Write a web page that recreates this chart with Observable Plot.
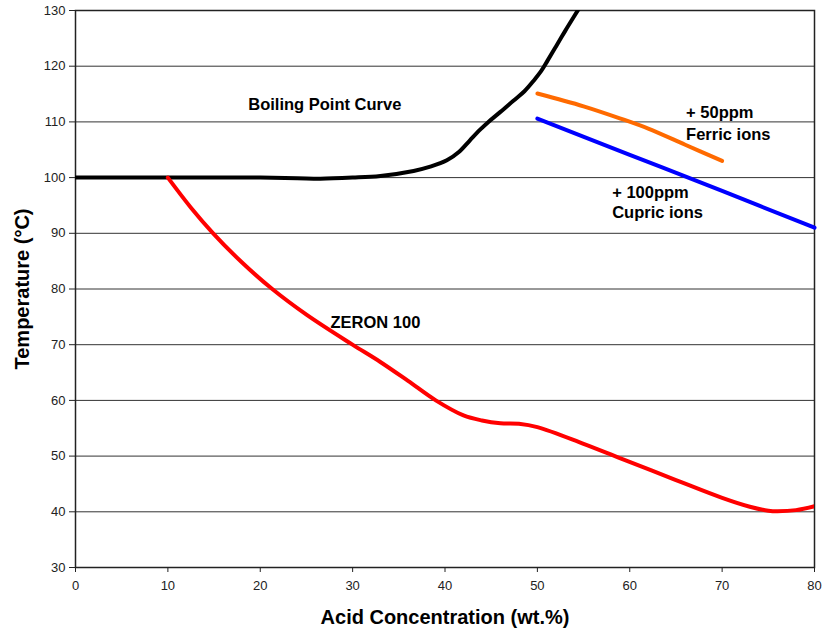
<!DOCTYPE html>
<html><head><meta charset="utf-8">
<script src="https://cdn.jsdelivr.net/npm/d3@7"></script>
<script src="https://cdn.jsdelivr.net/npm/@observablehq/plot@0.6"></script>
<style>
body{margin:0;background:#fff;}
#chart svg{font-family:"Liberation Sans",Arial,sans-serif;}
</style>
</head><body><div id="chart"></div>
<script>
const boilX = [0, 10, 20, 24, 26.5, 30, 33, 36.6, 38.5, 40.2, 41.5, 42.7, 43.8, 44.7, 46, 47.4, 48.6, 49.6, 50.4, 51.1, 52, 53, 54, 55];
const boilY = [100, 100, 100, 99.9, 99.8, 100, 100.3, 101.2, 102, 103.1, 104.6, 106.7, 108.6, 110, 111.8, 113.8, 115.5, 117.4, 119.1, 121, 123.5, 126.3, 129, 131.7];
const zeronX = [10, 12.5, 14.9, 18, 21.3, 25, 29.9, 33, 36, 39, 42, 44, 46, 48, 50, 55, 59, 65, 70, 73, 75, 76, 78, 80];
const zeronY = [100, 94.6, 90, 84.8, 80, 75.4, 70.1, 66.9, 63.5, 60, 57.3, 56.4, 55.9, 55.8, 55.2, 52.2, 49.6, 45.7, 42.5, 40.9, 40.2, 40.1, 40.3, 41];
const ferricX = [50, 55, 59, 62, 66, 70];
const ferricY = [115.1, 112.8, 110.6, 108.8, 105.9, 103];
const cupricX = [50, 60, 70, 80];
const cupricY = [110.6, 104.1, 97.6, 91];
const labelText = ["Boiling Point Curve", "ZERON 100", "+ 50ppm", "Ferric ions", "+ 100ppm", "Cupric ions"];
const labelX = [18.7, 27.6, 66.1, 66.1, 58.1, 58.1];
const labelY = [113.1, 74, 111.6, 107.7, 97.3, 93.7];
const xTicks = [0, 10, 20, 30, 40, 50, 60, 70, 80];
const yTicks = [30, 40, 50, 60, 70, 80, 90, 100, 110, 120, 130];

const zip = (xs, ys) => xs.map((x, i) => ({x, y: ys[i]}));
const labels = labelText.map((t, i) => ({t, x: labelX[i], y: labelY[i]}));

const chart = Plot.plot({
  width: 825, height: 634,
  marginLeft: 75, marginRight: 11, marginTop: 10, marginBottom: 67,
  x: {domain: [0, 80], ticks: xTicks},
  y: {domain: [30, 130], ticks: yTicks},
  style: {fontSize: "13px", color: "#222"},
  marks: [
    Plot.gridY(yTicks, {stroke: "#333", strokeOpacity: 1, strokeWidth: 1}),
    Plot.frame({stroke: "#222", strokeWidth: 1.5}),
    Plot.axisX({ticks: xTicks, tickSize: 5, tickPadding: 8, fontSize: 13, label: null}),
    Plot.axisY({ticks: yTicks, tickSize: 6, tickPadding: 4, fontSize: 13, label: null}),
    Plot.line(zip(boilX, boilY), {x: "x", y: "y", stroke: "#000", strokeWidth: 4, curve: "catmull-rom", clip: true}),
    Plot.line(zip(zeronX, zeronY), {x: "x", y: "y", stroke: "#ff0000", strokeWidth: 4, curve: "catmull-rom", clip: true}),
    Plot.line(zip(ferricX, ferricY), {x: "x", y: "y", stroke: "#ff6a00", strokeWidth: 4, curve: "catmull-rom"}),
    Plot.line(zip(cupricX, cupricY), {x: "x", y: "y", stroke: "#0000ff", strokeWidth: 4, curve: "catmull-rom"}),
    Plot.text(labels, {x: "x", y: "y", text: "t", textAnchor: "start", fontSize: 16.5, fontWeight: "bold", fill: "#000"}),
    Plot.text(["Acid Concentration (wt.%)"], {frameAnchor: "bottom", textAnchor: "middle", lineAnchor: "top", dy: 42, fontSize: 20, fontWeight: "bold", fill: "#000"}),
    Plot.text(["Temperature (°C)"], {frameAnchor: "left", textAnchor: "middle", dx: -53, rotate: -90, fontSize: 20, fontWeight: "bold", fill: "#000"})
  ]
});
document.getElementById("chart").appendChild(chart);
</script>
</body></html>
